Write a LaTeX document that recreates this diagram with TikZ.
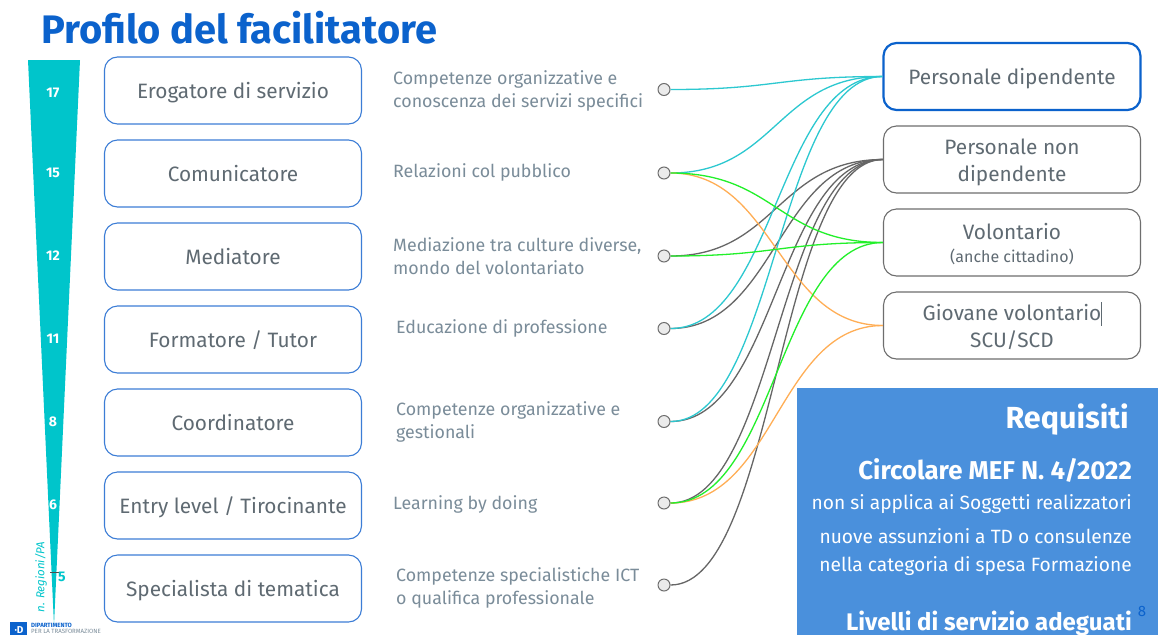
\documentclass[tikz,border=0pt]{standalone}
\usepackage{fontspec}
\setmainfont{Fira Sans}
\definecolor{titleblue}{HTML}{0B62CC}
\definecolor{tealc}{HTML}{00C5CB}
\definecolor{boxblue}{HTML}{3C7DD6}
\definecolor{panel}{HTML}{4A90DC}
\definecolor{txt}{HTML}{5F6A72}
\definecolor{desc}{HTML}{7A8C99}
\definecolor{graybd}{HTML}{6E6E6E}
\definecolor{lteal}{HTML}{2CC8D0}
\definecolor{lgreen}{HTML}{22F02A}
\definecolor{lorange}{HTML}{FFAE55}
\definecolor{lgray}{HTML}{666666}
\tikzset{
 role/.style={draw=boxblue,line width=1.1pt,rounded corners=13pt,minimum width=257pt,minimum height=67pt,inner sep=0pt,align=center,text=txt,font=\fontsize{20.8}{27}\selectfont,text height=15pt,text depth=0pt},
 target/.style={role,draw=graybd},
 twolines/.style={text height=43pt,text depth=0pt},
 desctext/.style={anchor=west,align=left,text=desc,inner sep=0pt,font=\fontsize{17.8}{23.5}\selectfont},
 dot/.style={circle,draw=graybd,fill=black!8,line width=1pt,minimum size=12pt,inner sep=0pt},
 num/.style={text=white,font=\fontsize{14}{14}\selectfont\bfseries,inner sep=0pt},
 panelr/.style={anchor=east,text=white,inner sep=0pt},
 link/.style={line width=1.3pt},
}
\newcommand{\lnk}[3]{\draw[link,#1] (#2) .. controls +(105,0) and +(-105,0) .. (#3);}
\begin{document}
\begin{tikzpicture}[x=1pt,y=-1pt]
\useasboundingbox (0,0) rectangle (1158,635);
\fill[white] (0,0) rectangle (1158,635);
\node[anchor=west,text=titleblue,inner sep=0pt,font=\fontsize{39.8}{39.8}\selectfont\bfseries] (title) at (41,28) {Profilo del facilitatore};
% wedge
\fill[tealc] (28,60) -- (80,60) -- (54,625) -- cycle;
\foreach \n/\y in {17/93,15/173,12/256,11/339,8/422,6/505}{
  \node[num] (n\n) at (53,\y) {\n};
}
\draw[black!70,line width=1pt] (50,572) -- (61,572);
\node[text=tealc,inner sep=0pt,font=\fontsize{14}{14}\selectfont\bfseries] (n5) at (62,577) {5};
\node[rotate=90,text=tealc,inner sep=0pt,font=\fontsize{11.5}{11.5}\selectfont\itshape] (regioni) at (41,577) {n. Regioni/PA};
% logo
\fill[titleblue] (10,622) rectangle (27,635);
\node[text=white,inner sep=0pt,font=\fontsize{10}{10}\selectfont\bfseries] (logod) at (19,630) {·D};
\node[anchor=west,inner sep=0pt,text=titleblue,font=\fontsize{6.1}{6.1}\selectfont\bfseries] (logo1) at (31,625) {DIPARTIMENTO};
\node[anchor=west,inner sep=0pt,text=desc,font=\fontsize{6.1}{6.1}\selectfont] (logo2) at (31,631) {PER LA TRASFORMAZIONE};
% left boxes
\node[role] (r1) at (233,90.5) {Erogatore di servizio};
\node[role] (r2) at (233,173.5) {Comunicatore};
\node[role] (r3) at (233,256.5) {Mediatore};
\node[role] (r4) at (233,339.5) {Formatore / Tutor};
\node[role] (r5) at (233,422.5) {Coordinatore};
\node[role] (r6) at (233,505.5) {Entry level / Tirocinante};
\node[role] (r7) at (233,588.5) {Specialista di tematica};
% descriptions
\node[desctext] (d1) at (393,91) {Competenze organizzative e\\conoscenza dei servizi specifici};
\node[desctext] (d2) at (393,172.5) {Relazioni col pubblico};
\node[desctext] (d3) at (393,256) {Mediazione tra culture diverse,\\mondo del volontariato};
\node[desctext] (d4) at (396,328) {Educazione di professione};
\node[desctext] (d5) at (396,422) {Competenze organizzative e\\gestionali};
\node[desctext] (d6) at (393,504) {Learning by doing};
\node[desctext] (d7) at (396,588) {Competenze specialistiche ICT\\o qualifica professionale};
% dots
\node[dot] (c1) at (664,89.5) {};
\node[dot] (c2) at (664,173) {};
\node[dot] (c3) at (664,256) {};
\node[dot] (c4) at (664,328.5) {};
\node[dot] (c5) at (664,421.5) {};
\node[dot] (c6) at (664,503) {};
\node[dot] (c7) at (664,585) {};
% targets
\node[target,draw=titleblue,line width=2.2pt] (t1) at (1012,76.5) {Personale dipendente};
\node[target,twolines] (t2) at (1012,159.5) {Personale non\\dipendente};
\node[target,twolines,text height=39pt] (t3) at (1012,242.5) {Volontario\\[-4pt]{\fontsize{16}{18}\selectfont (anche cittadino)}};
\node[target,twolines] (t4) at (1012,325.5) {Giovane volontario\\SCU/SCD};
\draw[txt,line width=0.7pt] (1101,302) -- (1101,326);
% links
\lnk{lgray}{c3.east}{t2.west}
\lnk{lgray}{c4.east}{t2.west}
\lnk{lgray}{c5.east}{t2.west}
\lnk{lgray}{c6.east}{t2.west}
\lnk{lgray}{c7.east}{t2.west}
\lnk{lteal}{c1.east}{t1.west}
\lnk{lteal}{c2.east}{t1.west}
\lnk{lteal}{c4.east}{t1.west}
\lnk{lteal}{c5.east}{t1.west}
\lnk{lorange}{c2.east}{t4.west}
\lnk{lorange}{c6.east}{t4.west}
\lnk{lgreen}{c2.east}{t3.west}
\lnk{lgreen}{c3.east}{t3.west}
\lnk{lgreen}{c6.east}{t3.west}
% panel
\fill[panel] (797,388) rectangle (1158,635);
\node[panelr,font=\fontsize{30.5}{30.5}\selectfont\bfseries] (p1) at (1129,420) {Requisiti};
\node[panelr,font=\fontsize{25.8}{25.8}\selectfont\bfseries] (p2) at (1132,470) {Circolare MEF N. 4/2022};
\node[panelr,font=\fontsize{19.2}{19.2}\selectfont] (p3) at (1132,504) {non si applica ai Soggetti realizzatori};
\node[panelr,font=\fontsize{19.2}{19.2}\selectfont] (p4) at (1132,536) {nuove assunzioni a TD o consulenze};
\node[panelr,font=\fontsize{19.2}{19.2}\selectfont] (p5) at (1132,566) {nella categoria di spesa Formazione};
\node[panelr,font=\fontsize{24}{24}\selectfont\bfseries] (p6) at (1132,623) {Livelli di servizio adeguati};
\node[text=titleblue,inner sep=0pt,font=\fontsize{15}{15}\selectfont] (pg) at (1142,611) {8};
\end{tikzpicture}
\end{document}
